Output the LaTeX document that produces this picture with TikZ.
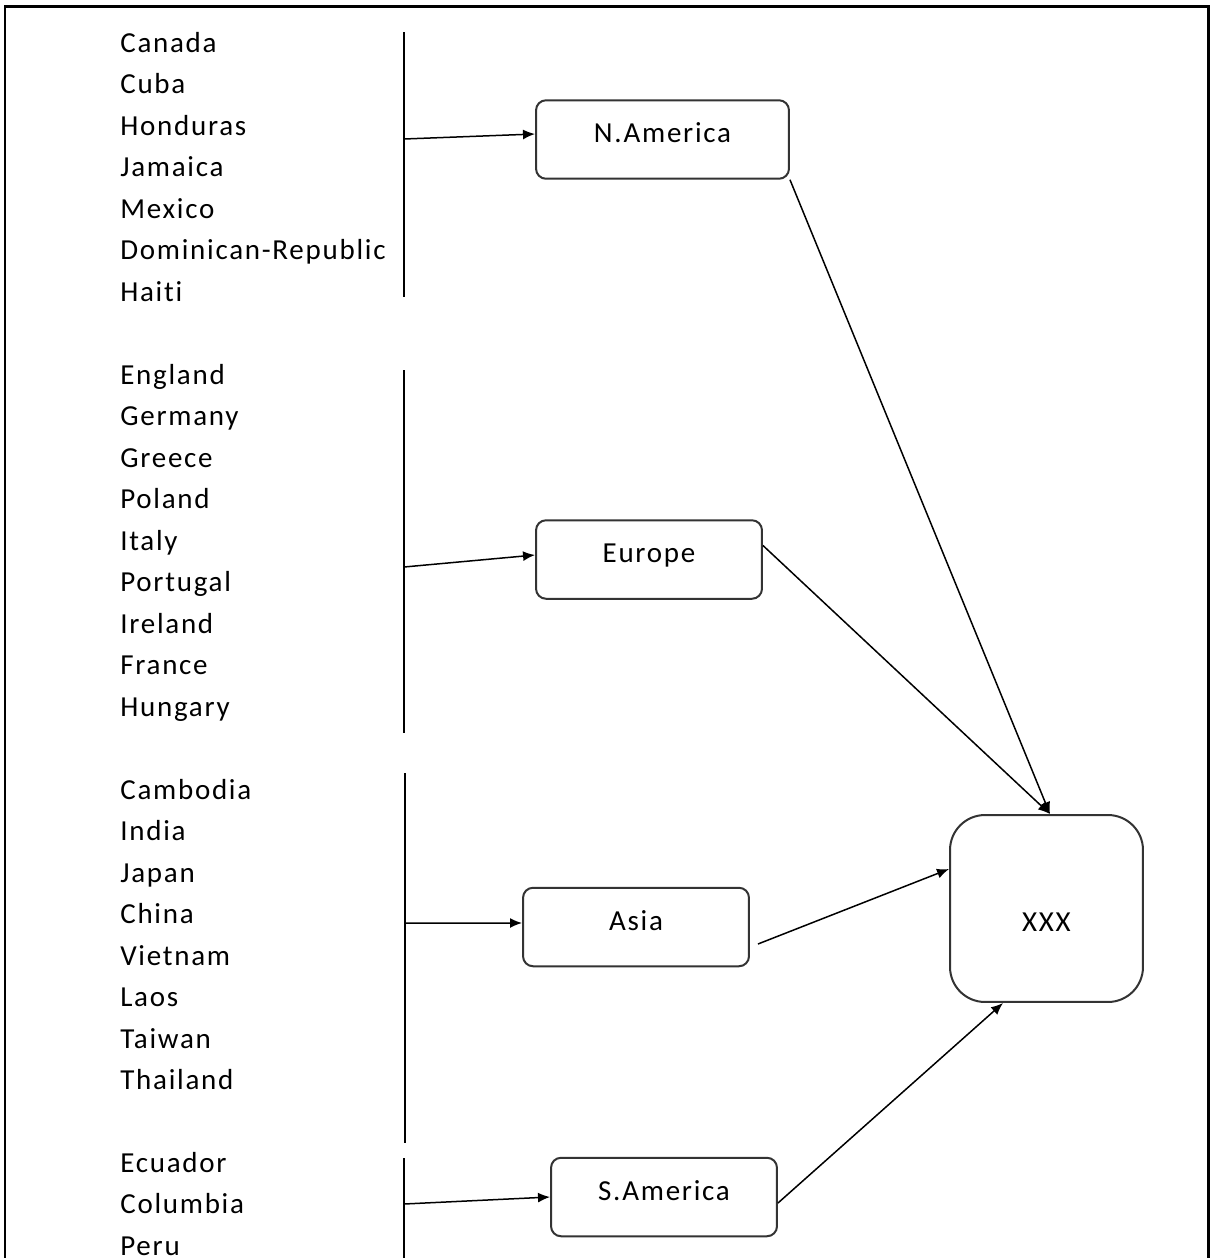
\documentclass[tikz,border=0pt]{standalone}
\usepackage{fontspec}
\setmainfont{Carlito}[LetterSpace=6, Ligatures=CommonOff]
\usetikzlibrary{arrows.meta}
\begin{document}
\begin{tikzpicture}[x=0.02cm, y=-0.02cm,
  country/.style={anchor=base west, inner sep=0pt, font=\fontsize{16.5}{20}\selectfont},
  region/.style={draw=black!80, line width=0.04cm, rounded corners=0.2cm,
    minimum width=4.52cm, minimum height=1.57cm, text height=0.38cm, text depth=0.26cm,
    font=\fontsize{16.5}{20}\selectfont},
  link/.style={line width=0.03cm, -{Latex[length=0.24cm, width=0.2cm]}}]
  \def\lx{404}
  \def\sp{41.5}

  \clip (0,0) rectangle (1210,1258);
  \draw[line width=0.06cm] (5,6) rectangle (1208,1300);

  % country lists
  \foreach \c [count=\i from 0] in {Canada,Cuba,Honduras,Jamaica,Mexico,Dominican-Republic,Haiti}
    \node[country] (na\i) at (120, 52+\sp*\i) {\c};
  \foreach \c [count=\i from 0] in {England,Germany,Greece,Poland,Italy,Portugal,Ireland,France,Hungary}
    \node[country] (eu\i) at (120, 384+\sp*\i) {\c};
  \foreach \c [count=\i from 0] in {Cambodia,India,Japan,China,Vietnam,Laos,Taiwan,Thailand}
    \node[country] (as\i) at (120, 799+\sp*\i) {\c};
  \foreach \c [count=\i from 0] in {Ecuador,Columbia,Peru}
    \node[country] (sa\i) at (120, 1172+\sp*\i) {\c};

  % brackets
  \draw[line width=0.03cm] (\lx, 32) -- (\lx, 297);
  \draw[line width=0.03cm] (\lx, 370) -- (\lx, 733);
  \draw[line width=0.03cm] (405, 773) -- (405, 1143);
  \draw[line width=0.03cm] (\lx, 1158) -- (\lx, 1270);
  \coordinate (naIn) at (\lx, 139);
  \coordinate (euIn) at (\lx, 567);
  \coordinate (asIn) at (\lx, 923);
  \coordinate (saIn) at (\lx, 1204);

  % regions
  \node[region, minimum width=5.06cm] (NAm) at (662.5, 139.5) {N.America};
  \node[region] (Eur) at (649, 559.5) {Europe};
  \node[region] (Asia) at (636, 927) {Asia};
  \node[region] (SAm) at (664, 1197) {S.America};
  \node[region, rounded corners=0.7cm, minimum width=3.86cm, minimum height=3.74cm,
    text height=0.92cm, text depth=0cm] (XXX) at (1046.5, 908.5) {XXX};

  \draw[link] (naIn) -- ([yshift=0.11cm]NAm.west);
  \draw[link] (euIn) -- ([yshift=0.09cm]Eur.west);
  \draw[link] (asIn) -- ([yshift=0.08cm]Asia.west);
  \draw[link] (saIn) -- (SAm.west);

  \draw[link] (NAm.south east) -- ([xshift=0.07cm]XXX.north);
  \draw[link] ([yshift=0.28cm]Eur.east) -- ([xshift=0.07cm]XXX.north);
  \draw[link] ([xshift=0.16cm, yshift=-0.34cm]Asia.east) -- ([yshift=0.79cm]XXX.west);
  \draw[link] ([yshift=-0.12cm]SAm.east) -- ([xshift=-0.87cm]XXX.south);
\end{tikzpicture}
\end{document}
